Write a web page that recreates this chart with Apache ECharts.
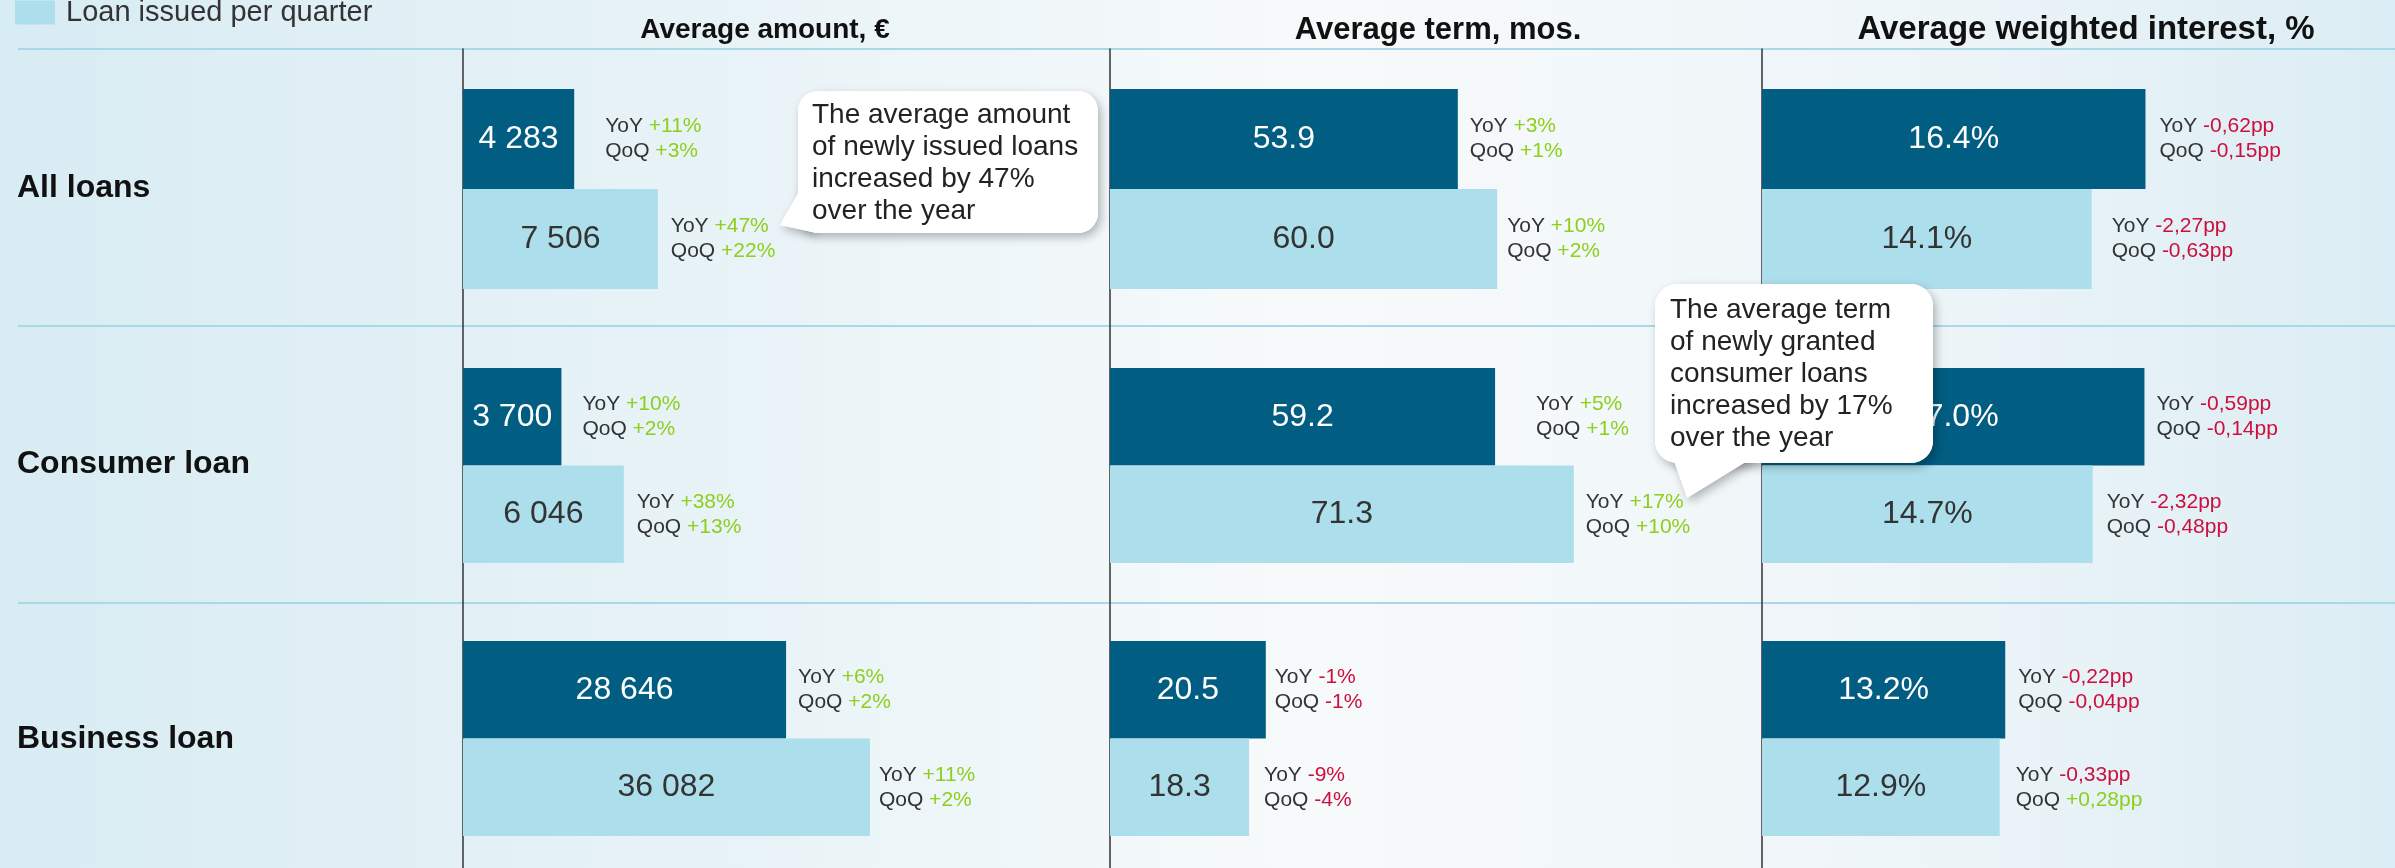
<!DOCTYPE html>
<html>
<head>
<meta charset="utf-8">
<script src="https://cdn.jsdelivr.net/npm/echarts@6/dist/echarts.min.js"></script>
<style>
  html, body { margin: 0; padding: 0; }
  #chart { width: 2395px; height: 868px; }
</style>
</head>
<body>
<div id="chart"></div>
<script>
// ---------- DATA ----------
const categories = ['All loans', 'Consumer loan', 'Business loan'];
const panelTitles = ['Average amount, €', 'Average term, mos.', 'Average weighted interest, %'];
const legendName = 'Loan issued per quarter';
const portfolioName = 'Loan portfolio';

const amountPortfolio = [4283, 3700, 28646];
const amountIssued = [7506, 6046, 36082];
const termPortfolio = [53.9, 59.2, 20.5];
const termIssued = [60.0, 71.3, 18.3];
const ratePortfolio = [16.4, 17.0, 13.2];
const rateIssued = [14.1, 14.7, 12.9];

const amountPortfolioYoY = ['+11%', '+10%', '+6%'];
const amountPortfolioQoQ = ['+3%', '+2%', '+2%'];
const amountIssuedYoY = ['+47%', '+38%', '+11%'];
const amountIssuedQoQ = ['+22%', '+13%', '+2%'];
const termPortfolioYoY = ['+3%', '+5%', '-1%'];
const termPortfolioQoQ = ['+1%', '+1%', '-1%'];
const termIssuedYoY = ['+10%', '+17%', '-9%'];
const termIssuedQoQ = ['+2%', '+10%', '-4%'];
const ratePortfolioYoY = ['-0,62pp', '-0,59pp', '-0,22pp'];
const ratePortfolioQoQ = ['-0,15pp', '-0,14pp', '-0,04pp'];
const rateIssuedYoY = ['-2,27pp', '-2,32pp', '-0,33pp'];
const rateIssuedQoQ = ['-0,63pp', '-0,48pp', '+0,28pp'];

const note1 = 'The average amount\nof newly issued loans\nincreased by 47%\nover the year';
const note2 = 'The average term\nof newly granted\nconsumer loans\nincreased by 17%\nover the year';

// ---------- LAYOUT (not data) ----------
const FONT = '"Liberation Sans", Arial, sans-serif';
const DARK = '#015d81';
const LIGHT = '#addeeb';
const GREEN = '#8ccf1c';
const RED = '#cc0f3c';
const panelX = [463, 1110, 1762];
const cellW = 600;
const rowTop = [89, 368, 641];
const rowH = [200, 195, 195];
// per-cell axis maximum (each row of each panel has its own scale in the source)
const axisMax = [[23112, 22556, 53201], [92.98, 92.24, 78.95], [25.66, 26.67, 32.56]];
const gapPortfolio = [[31, 21, 12], [12, 41, 9], [14, 12, 13]];
const gapIssued = [[13, 13, 9], [10, 12, 15], [20, 14, 16]];
const titleX = [765, 1438, 2086];
const titleSize = [28, 31, 33];

const panels = [
  { p: amountPortfolio, i: amountIssued, py: amountPortfolioYoY, pq: amountPortfolioQoQ, iy: amountIssuedYoY, iq: amountIssuedQoQ,
    fmt: v => String(v).replace(/\B(?=(\d{3})+(?!\d))/g, ' ') },
  { p: termPortfolio, i: termIssued, py: termPortfolioYoY, pq: termPortfolioQoQ, iy: termIssuedYoY, iq: termIssuedQoQ,
    fmt: v => v.toFixed(1) },
  { p: ratePortfolio, i: rateIssued, py: ratePortfolioYoY, pq: ratePortfolioQoQ, iy: rateIssuedYoY, iq: rateIssuedQoQ,
    fmt: v => v.toFixed(1) + '%' }
];

const changeRich = {
  k: { color: '#333', fontSize: 21, lineHeight: 25, fontFamily: FONT },
  g: { color: GREEN, fontSize: 21, lineHeight: 25, fontFamily: FONT },
  r: { color: RED, fontSize: 21, lineHeight: 25, fontFamily: FONT }
};
function sty(s) { return s.charAt(0) === '-' ? 'r' : 'g'; }
function changeText(y, q) {
  return '{k|YoY }{' + sty(y) + '|' + y + '}\n{k|QoQ }{' + sty(q) + '|' + q + '}';
}

const grid = [], xAxis = [], yAxis = [], series = [];

// frame with row separators
grid.push({ left: 18, right: 0, top: 49, height: 830, outerBoundsMode: 'none' });
xAxis.push({ gridIndex: 0, type: 'value', show: false });
yAxis.push({
  gridIndex: 0, type: 'category', data: categories, inverse: true,
  axisLine: { show: false }, axisTick: { show: false }, axisLabel: { show: false },
  splitLine: { show: true, lineStyle: { color: '#a9d8e8', width: 2 } }
});
// row labels
grid.push({ left: 17, right: 0, top: 51, height: 826, outerBoundsMode: 'none' });
xAxis.push({ gridIndex: 1, type: 'value', show: false });
yAxis.push({
  gridIndex: 1, type: 'category', data: categories, inverse: true,
  axisLine: { show: false }, axisTick: { show: false }, splitLine: { show: false },
  axisLabel: { inside: true, margin: 0, fontSize: 32, fontWeight: 'bold', color: '#111', fontFamily: FONT }
});
// panel axis lines
for (let p = 0; p < 3; p++) {
  const gi = grid.length;
  grid.push({ left: panelX[p], top: 49, bottom: 0, width: cellW, outerBoundsMode: 'none' });
  xAxis.push({ gridIndex: gi, type: 'value', show: false });
  yAxis.push({
    gridIndex: gi, type: 'value', min: 0, max: 1,
    axisLine: { show: true, lineStyle: { color: '#333', width: 1.5 } },
    axisTick: { show: false }, axisLabel: { show: false }, splitLine: { show: false }
  });
}
// cells
for (let p = 0; p < 3; p++) {
  const P = panels[p];
  for (let r = 0; r < 3; r++) {
    const gi = grid.length;
    grid.push({ left: panelX[p], top: rowTop[r], height: rowH[r], width: cellW, outerBoundsMode: 'none' });
    xAxis.push({ gridIndex: gi, type: 'value', min: 0, max: axisMax[p][r], show: false });
    yAxis.push({ gridIndex: gi, type: 'category', data: ['portfolio', 'issued'], inverse: true, show: false });
    const common = { type: 'bar', xAxisIndex: gi, yAxisIndex: gi, barGap: '-100%', barCategoryGap: 0, silent: true };
    series.push(Object.assign({}, common, {
      name: portfolioName, data: [P.p[r], '-'], itemStyle: { color: DARK },
      label: { show: true, position: 'right', distance: gapPortfolio[p][r], formatter: changeText(P.py[r], P.pq[r]), rich: changeRich }
    }));
    series.push(Object.assign({}, common, {
      name: legendName, data: ['-', P.i[r]], itemStyle: { color: LIGHT },
      label: { show: true, position: 'right', distance: gapIssued[p][r], formatter: changeText(P.iy[r], P.iq[r]), rich: changeRich }
    }));
    series.push(Object.assign({}, common, {
      name: 'values', data: [P.p[r], P.i[r]], itemStyle: { color: 'rgba(0,0,0,0)' },
      label: {
        show: true, position: 'inside',
        formatter: (prm) => (prm.dataIndex === 0 ? '{w|' : '{d|') + P.fmt(prm.value) + '}',
        rich: {
          w: { color: '#fff', fontSize: 32, fontFamily: FONT },
          d: { color: '#333', fontSize: 32, fontFamily: FONT }
        }
      }
    }));
  }
}

// callout bubbles (annotations)
function bubble(rect, tail, text, textPos, zBase) {
  const sh = { shadowBlur: 10, shadowOffsetX: 3, shadowOffsetY: 4, shadowColor: 'rgba(0,0,0,0.28)' };
  return [
    { type: 'rect', z: zBase, shape: rect, style: Object.assign({ fill: '#fff' }, sh) },
    { type: 'polygon', z: zBase, shape: { points: tail }, style: Object.assign({ fill: '#fff' }, sh) },
    { type: 'rect', z: zBase + 1, shape: rect, style: { fill: '#fff' } },
    { type: 'polygon', z: zBase + 1, shape: { points: tail }, style: { fill: '#fff' } },
    { type: 'text', z: zBase + 2, x: textPos[0], y: textPos[1],
      style: { text: text, fill: '#222', fontSize: 28, fontFamily: FONT, lineHeight: 32, align: 'left', verticalAlign: 'top' } }
  ];
}
const graphic = [].concat(
  bubble({ x: 798, y: 91, width: 300, height: 142, r: 20 },
    [[800, 190], [780, 225], [812, 232], [818, 200]], note1, [812, 99], 100),
  bubble({ x: 1655, y: 284, width: 278, height: 179, r: 22 },
    [[1672, 455], [1687, 498], [1757, 455], [1720, 440]], note2, [1670, 294], 100)
);

const option = {
  animation: false,
  backgroundColor: {
    type: 'linear', x: 0, y: 0, x2: 1, y2: 0,
    colorStops: [
      { offset: 0, color: '#d8ecf3' },
      { offset: 0.3, color: '#e8f3f7' },
      { offset: 0.55, color: '#f7fafb' },
      { offset: 0.8, color: '#eef5f8' },
      { offset: 1, color: '#dbedf4' }
    ]
  },
  title: panelTitles.map((t, i) => ({
    text: t, left: titleX[i], top: 16 - (titleSize[i] - 28) / 2, textAlign: 'center', padding: 0,
    textStyle: { fontSize: titleSize[i], fontWeight: 'bold', color: '#111', fontFamily: FONT }
  })),
  legend: {
    data: [legendName], left: 15, top: -2, padding: 0,
    icon: 'rect', itemWidth: 40, itemHeight: 24, selectedMode: false,
    textStyle: { fontSize: 29, color: '#333', fontFamily: FONT, padding: [0, 0, 0, 6] }
  },
  grid: grid, xAxis: xAxis, yAxis: yAxis, series: series,
  graphic: graphic
};

const chart = echarts.init(document.getElementById('chart'), null, { renderer: 'canvas' });
chart.setOption(option);
</script>
</body>
</html>
